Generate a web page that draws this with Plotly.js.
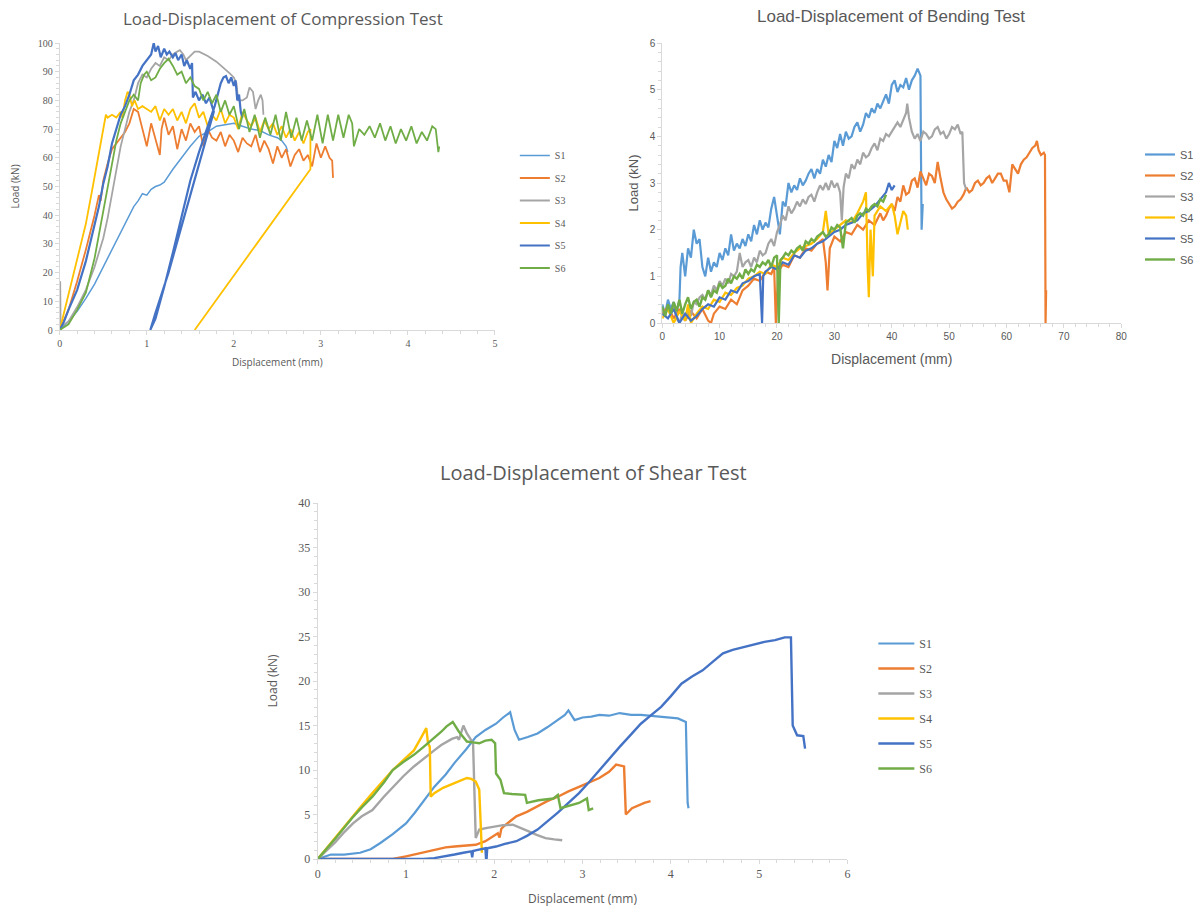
<!DOCTYPE html>
<html><head><meta charset="utf-8">
<script src="https://cdn.plot.ly/plotly-3.0.1.min.js"></script>
<style>html,body{margin:0;padding:0;background:#fff}#chart{width:1199px;height:907px}</style>
</head><body><div id="chart"></div>
<script>
// ---------- DATA ----------
var seriesNames = ["S1","S2","S3","S4","S5","S6"];
var seriesColors = ["#5B9BD5","#ED7D31","#A5A5A5","#FFC000","#4472C4","#70AD47"];

// Compression test (displacement mm, load kN)
var compS1x = [0,0.1,0.2,0.3,0.4,0.5,0.6,0.7,0.8,0.85,0.9,0.95,1.0,1.05,1.1,1.15,1.2,1.3,1.4,1.5,1.6,1.7,1.8,1.9,2.0,2.1,2.2,2.3,2.4,2.5,2.55,2.6,2.62];
var compS1y = [0,3,6.5,11,16,22,28,34,40,43,45,47.5,47,49,50,50.5,51.5,56,60,64,67.5,69,71,71.5,72,71,70,69.5,68,67,66,64,62];
var compS2x = [0,0.1,0.2,0.3,0.4,0.45,0.47,0.5,0.55,0.6,0.65,0.7,0.75,0.8,0.85,0.9,0.95,1.0,1.05,1.1,1.15,1.17,1.2,1.25,1.3,1.35,1.4,1.45,1.5,1.55,1.6,1.65,1.7,1.75,1.8,1.85,1.9,1.95,2.0,2.05,2.1,2.15,2.2,2.25,2.3,2.35,2.4,2.45,2.5,2.55,2.6,2.65,2.7,2.75,2.8,2.85,2.9,2.95,3.0,3.05,3.1,3.13,3.14];
var compS2y = [0,7,17,28,40,47,45,52,58,63,65,67,69,72,77,76,70,64,72,66,61,70,74,68,71,63,70,66,72,69,71,64,70,67,66,69,64,68,66,62,67,65,64,68,62,66,63,58,64,60,63,57,61,63,59,61,57,65,60,64,60,59,53];
var compS3x = [0,0.005,0.01,0.1,0.2,0.3,0.4,0.5,0.55,0.6,0.65,0.7,0.75,0.8,0.85,0.9,0.95,1.0,1.05,1.1,1.15,1.2,1.25,1.3,1.35,1.38,1.42,1.45,1.5,1.55,1.6,1.7,1.8,1.9,1.95,2.0,2.03,2.05,2.1,2.15,2.18,2.22,2.25,2.28,2.31,2.33,2.34];
var compS3y = [0,17,1,3,8,14,22,32,39,47,56,64,70,76,80,86,89,88,91,93,92,95,94,96,97,97.5,96,94,95.5,97,97,95.5,93.5,91,89.5,88,86,80,80,81,84.5,83,77,80,82,80,75];
var compS4x = [0,0.05,0.1,0.2,0.3,0.38,0.45,0.5,0.53,0.55,0.6,0.65,0.7,0.72,0.75,0.78,0.8,0.83,0.86,0.9,0.95,1.0,1.05,1.1,1.15,1.2,1.25,1.3,1.35,1.4,1.45,1.5,1.55,1.6,1.65,1.7,1.75,1.8,1.85,1.9,1.95,2.0,2.05,2.1,2.15,2.2,2.25,2.3,2.35,2.4,2.45,2.5,2.55,2.6,2.65,2.7,2.75,2.8,2.85,2.88,2.88,1.55];
var compS4y = [0,6,12,24,37,50,62,71,75,74,75,74,76,74,80,83,82,78,80,77,78,77,76,78,73,77,75,77,73,76,72,77,79,74,76,71,75,73,77,72,75,74,70,76,73,71,74,69,73,70,72,68,71,67,70,66,69,65,69,70,56,0];
var compS5x = [0,0.05,0.1,0.2,0.3,0.4,0.45,0.5,0.55,0.6,0.65,0.7,0.75,0.8,0.85,0.9,0.95,1.0,1.05,1.08,1.1,1.13,1.16,1.2,1.23,1.26,1.3,1.33,1.36,1.4,1.43,1.46,1.5,1.52,1.53,1.56,1.6,1.64,1.68,1.72,1.77,1.5,1.25,1.1,1.04,1.1,1.2,1.3,1.4,1.5,1.6,1.7,1.78,1.85,1.88,1.91,1.94,1.97,2.0,2.02,2.04,2.06,2.08,2.1];
var compS5y = [0,3,7,14,24,36,43,51,57,65,70,75,78,82,87,89,92,94,96,100,97,99,95,98,96,97,95,96.5,94,96,92,94,91,93,81,83,80,82,79,81,76,47,20,6,0,4,15,27,40,52,62,71,78,86,88,88.5,86,88,85,87,80,82,76,74];
var compS6x = [0,0.1,0.2,0.3,0.4,0.5,0.6,0.65,0.7,0.75,0.8,0.85,0.9,0.93,0.97,1.0,1.05,1.1,1.15,1.2,1.25,1.3,1.35,1.4,1.45,1.5,1.55,1.6,1.65,1.7,1.75,1.8,1.85,1.9,1.95,2.0,2.06,2.12,2.18,2.24,2.3,2.36,2.42,2.48,2.54,2.6,2.66,2.72,2.78,2.84,2.9,2.96,3.02,3.08,3.14,3.2,3.26,3.32,3.36,3.38,3.44,3.5,3.56,3.62,3.68,3.74,3.8,3.86,3.92,3.98,4.04,4.1,4.16,4.22,4.28,4.32,4.35,4.36];
var compS6y = [0,2,7,13,25,42,58,66,72,76,80,82,80,86,89,90,87,88,91,93,94.5,92,89,90,86,88,85,84,80,83,79,82,76,80,75,78,70,77,69,75,67,74,68,75,66,76,67,74,66,73,66,75,65,75,66,75,67,75,72,64,70,68,71,67,72,66,71,65,70,66,71,65,69,66,71,70,62,64];

// Bending test
var bendS1x = [0,0.5,1,1.5,2,2.5,3,3.2,3.5,4,4.5,5,5.5,6,6.5,7,7.5,8,8.5,9,9.5,10,10.5,11,11.5,12,12.5,13,13.5,14,14.5,15,15.5,16,16.5,17,17.5,18,18.5,19,19.5,20,20.5,21,21.5,22,22.5,23,23.5,24,24.5,25,25.5,26,26.5,27,27.5,28,28.5,29,29.5,30,30.5,31,31.5,32,32.5,33,33.5,34,34.5,35,35.5,36,36.5,37,37.5,38,38.5,39,39.5,40,40.5,41,41.5,42,42.5,43,43.5,44,44.5,44.7,45,45.1,45.2,45.4];
var bendS1y = [0.4,0.2,0.5,0.3,0.45,0.25,0.5,1.2,1.5,1.0,1.6,1.4,2.0,1.7,1.8,1.2,1.0,1.4,1.1,1.3,1.2,1.5,1.35,1.6,1.45,1.9,1.55,1.7,1.6,1.8,1.65,1.9,1.75,2.1,1.9,2.2,2.0,2.15,2.05,2.45,2.7,2.3,1.9,2.6,2.5,3.0,2.8,2.95,2.85,3.1,2.95,3.05,3.2,3.3,3.1,3.3,3.2,3.5,3.35,3.6,3.45,3.9,3.75,4.05,3.8,4.1,3.95,4.0,4.2,4.3,4.1,4.25,4.5,4.4,4.6,4.5,4.7,4.6,4.75,4.9,4.7,5.1,5.2,4.95,5.1,5.05,5.25,5.0,5.2,5.3,5.45,5.4,5.3,3.5,2.0,2.55];
var bendS2x = [0,1,2,3,4,5,6,7,8,8.5,9,10,11,12,13,14,15,16,17,18,19,19.5,19.8,20.2,21,22,23,24,25,26,27,28,28.5,28.8,29.2,30,31,32,33,34,35,36,37,38,38.5,39,39.5,40,40.5,41,41.5,42,42.5,43,43.5,44,44.5,45,45.5,46,46.5,47,47.5,48,48.5,49,49.5,50,50.5,51,51.5,52,52.5,53,53.5,54,54.5,55,55.5,56,56.5,57,57.5,58,58.5,59,59.5,60,60.5,61,61.5,62,62.5,63,63.5,64,64.5,65,65.3,65.6,66,66.5,66.7,66.8,66.9];
var bendS2y = [0.2,0.35,0.1,0.3,0.05,0.25,0.1,0.3,0.05,0,0.2,0.35,0.3,0.5,0.4,0.7,0.8,0.95,0.9,1.1,1.05,1.2,0,1.1,1.25,1.2,1.45,1.4,1.6,1.55,1.7,1.8,1.3,0.7,1.6,1.85,1.75,1.95,1.9,2.1,2.0,2.2,2.1,2.35,2.2,2.3,2.45,2.55,2.4,2.7,2.6,2.95,2.75,2.8,3.05,3.1,2.9,3.25,3.1,2.95,3.2,3.15,3.0,3.45,3.1,2.8,2.65,2.55,2.45,2.5,2.6,2.65,2.75,2.9,2.8,2.85,3.0,3.05,2.95,3.0,3.1,3.15,3.0,3.1,3.2,3.2,3.05,3.05,2.8,3.4,3.3,3.2,3.4,3.5,3.55,3.65,3.75,3.8,3.9,3.7,3.6,3.65,3.6,0,0.7];
var bendS3x = [0,0.5,1,1.5,2,2.5,3,3.5,4,4.5,5,5.5,6,6.5,7,7.5,8,8.5,9,9.5,10,10.5,11,11.5,12,12.5,13,13.5,14,14.5,15,15.5,16,16.5,17,17.5,18,18.5,19,19.5,20,20.5,21,21.5,22,22.5,23,23.5,24,24.5,25,25.5,26,26.5,27,27.5,28,28.5,29,29.5,30,30.5,31,31.3,31.6,32,32.5,33,33.5,34,34.5,35,35.5,36,36.5,37,37.5,38,38.5,39,39.5,40,40.5,41,41.5,42,42.5,42.7,43,43.5,44,44.5,45,45.5,46,46.5,47,47.5,48,48.5,49,49.5,50,50.5,51,51.5,52,52.3,52.6,53];
var bendS3y = [0.3,0.15,0.35,0.2,0.4,0.1,0,0.2,0.05,0.3,0.15,0.45,0.4,0.55,0.6,0.5,0.7,0.6,0.8,0.7,0.9,0.8,0.95,0.85,1.05,1.0,1.1,1.5,1.2,1.3,1.35,1.2,1.4,1.3,1.55,1.45,1.5,1.7,1.8,1.65,1.95,2.1,2.3,2.2,2.5,2.35,2.45,2.6,2.5,2.65,2.55,2.7,2.75,2.6,2.8,2.95,2.85,3.0,2.85,3.05,2.9,3.0,2.8,2.2,2.9,3.2,3.1,3.4,3.3,3.5,3.4,3.65,3.55,3.6,3.75,3.85,3.7,3.95,3.9,4.05,4.0,4.1,4.2,4.3,4.2,4.35,4.5,4.7,4.4,4.1,3.95,4.05,3.9,4.1,4.05,3.95,4.0,4.15,4.2,4.05,4.1,3.95,4.05,4.2,4.15,4.25,4.05,4.1,3.0,2.85];
var bendS4x = [0,1,2,3,4,4.5,5,6,7,8,9,10,11,12,13,14,15,16,17,18,19,20,21,22,23,24,25,26,27,28,28.5,29,30,31,32,33,34,35,35.5,35.8,36,36.3,36.7,37,38,39,40,40.5,41,42,42.5,42.8];
var bendS4y = [0.1,0.3,0,0.25,0.05,0.4,0,0.2,0.35,0.3,0.5,0.45,0.65,0.6,0.75,0.8,0.95,1.0,1.1,1.05,1.25,1.2,1.4,1.35,1.5,1.6,1.65,1.7,1.8,1.95,2.4,1.9,2.0,2.1,2.2,2.15,2.35,2.6,2.8,1.2,0.55,2.0,1.0,2.3,2.5,2.4,2.55,2.3,1.9,2.4,2.3,2.0];
var bendS5x = [0,1,2,3,4,5,6,7,8,9,10,11,12,13,14,15,16,17,17.4,17.6,18,19,20,21,22,23,24,25,26,27,28,29,30,31,32,33,34,35,36,37,38,39,39.5,40,40.5];
var bendS5y = [0.2,0.1,0.3,0,0.2,0.05,0.15,0.3,0.4,0.35,0.55,0.5,0.7,0.65,0.85,0.9,1.0,1.05,0,1.0,1.1,1.2,1.15,1.3,1.25,1.45,1.4,1.55,1.6,1.7,1.75,1.85,1.95,2.0,2.1,2.15,2.2,2.35,2.4,2.5,2.65,2.8,3.0,2.85,2.95];
var bendS6x = [0,0.5,1,1.5,2,2.5,3,3.5,4,4.5,5,5.5,6,6.5,7,7.5,8,8.5,9,9.5,10,10.5,11,11.5,12,12.5,13,13.5,14,14.5,15,15.5,16,16.5,17,17.5,18,18.5,19,19.5,20,20.3,20.6,21,21.5,22,22.5,23,23.5,24,24.5,25,25.5,26,26.5,27,27.5,28,28.5,29,29.5,30,30.5,31,31.5,32,32.5,33,33.5,34,34.5,35,35.5,36,36.5,37,37.5,38,38.5,39];
var bendS6y = [0.35,0.15,0.4,0.2,0.45,0.25,0.5,0.2,0.4,0.55,0.3,0.45,0.5,0.35,0.55,0.5,0.7,0.55,0.7,0.65,0.85,0.75,0.8,0.95,0.85,1.0,0.95,1.05,0.95,1.15,1.05,1.15,1.1,1.25,1.2,1.3,1.25,1.35,1.2,1.4,1.45,0,1.35,1.4,1.5,1.45,1.55,1.5,1.6,1.65,1.55,1.75,1.7,1.8,1.75,1.85,1.9,1.95,1.85,1.9,2.05,2.0,2.1,2.05,1.6,2.15,2.2,2.25,2.15,2.3,2.35,2.3,2.45,2.4,2.5,2.55,2.5,2.65,2.6,2.75];

// Shear test
var shearS1x = [0,0.15,0.3,0.48,0.6,0.71,0.85,1.0,1.1,1.18,1.32,1.45,1.55,1.68,1.79,1.9,2.02,2.1,2.16,2.18,2.23,2.28,2.38,2.49,2.6,2.72,2.8,2.84,2.91,3.0,3.1,3.19,3.3,3.42,3.55,3.66,3.78,3.89,4.0,4.08,4.17,4.19,4.2];
var shearS1y = [0,0.5,0.5,0.7,1.1,1.8,2.8,4.0,5.2,6.3,8.1,9.5,10.8,12.3,13.7,14.5,15.2,15.9,16.4,16.5,14.5,13.4,13.7,14.1,14.8,15.6,16.2,16.7,15.6,15.9,16.0,16.2,16.1,16.4,16.2,16.2,16.1,16.0,15.9,15.8,15.4,6.3,5.7];
var shearS2x = [0,0.3,0.6,0.85,1.0,1.09,1.2,1.32,1.45,1.55,1.68,1.79,1.9,1.97,2.04,2.06,2.08,2.11,2.18,2.25,2.37,2.49,2.6,2.72,2.84,2.96,3.08,3.19,3.3,3.38,3.47,3.49,3.56,3.63,3.7,3.77];
var shearS2y = [0,0,0,0,0.3,0.5,0.8,1.05,1.3,1.4,1.5,1.6,2.0,2.5,2.9,2.4,3.4,3.7,4.2,4.8,5.3,5.9,6.5,7.0,7.6,8.1,8.6,9.1,9.8,10.6,10.4,5.0,5.7,6.0,6.3,6.5];
var shearS3x = [0,0.1,0.2,0.29,0.4,0.5,0.62,0.75,0.85,0.97,1.09,1.2,1.32,1.4,1.46,1.52,1.58,1.6,1.65,1.69,1.73,1.76,1.79,1.83,1.92,2.02,2.1,2.21,2.3,2.39,2.48,2.58,2.68,2.77];
var shearS3y = [0,0.9,1.9,2.9,4.0,4.8,5.5,7.0,8.1,9.3,10.4,11.3,12.2,12.8,13.2,13.5,13.7,13.4,15.0,14.1,13.5,13.0,2.35,3.3,3.5,3.66,3.8,3.85,3.5,3.1,2.7,2.35,2.2,2.1];
var shearS4x = [0,0.1,0.2,0.3,0.39,0.5,0.62,0.75,0.85,0.97,1.09,1.17,1.23,1.25,1.27,1.28,1.32,1.42,1.55,1.62,1.69,1.74,1.79,1.83,1.86];
var shearS4y = [0,1.2,2.5,3.7,4.8,6.0,7.4,8.8,10.0,11.1,12.2,13.6,14.7,13.0,12.6,7.0,7.4,8.0,8.5,8.8,9.1,9.0,8.7,7.8,0.7];
var shearS5x = [0,0.5,1.0,1.2,1.32,1.45,1.55,1.65,1.74,1.75,1.76,1.8,1.9,1.91,1.92,2.02,2.12,2.25,2.37,2.49,2.6,2.72,2.84,2.96,3.08,3.19,3.3,3.42,3.55,3.66,3.78,3.89,4.0,4.12,4.24,4.36,4.48,4.59,4.7,4.82,4.94,5.06,5.18,5.29,5.36,5.38,5.43,5.5,5.52];
var shearS5y = [0,0,0,0,0.1,0.3,0.5,0.7,0.86,0.2,0.9,1.0,1.2,-0.5,1.2,1.4,1.7,2.0,2.6,3.3,4.2,5.2,6.3,7.4,8.7,10.0,11.3,12.6,14.0,15.2,16.2,17.1,18.3,19.7,20.5,21.2,22.2,23.1,23.5,23.8,24.1,24.4,24.6,24.9,24.9,15.0,13.9,13.8,12.4];
var shearS6x = [0,0.1,0.2,0.3,0.39,0.5,0.62,0.75,0.85,0.97,1.09,1.2,1.32,1.4,1.46,1.53,1.6,1.69,1.76,1.83,1.9,1.97,2.01,2.02,2.07,2.11,2.2,2.35,2.37,2.5,2.67,2.72,2.75,2.85,2.96,3.05,3.07,3.12];
var shearS6y = [0,1.1,2.3,3.5,4.6,5.8,7.0,8.6,10.0,10.9,11.7,12.6,13.6,14.3,14.9,15.4,14.3,13.2,13.1,13.0,13.3,13.4,13.0,9.6,8.9,7.4,7.3,7.2,6.3,6.6,6.8,7.2,5.7,6.0,6.3,6.8,5.5,5.7];

// ---------- CHART ----------
var comp = [[compS1x,compS1y],[compS2x,compS2y],[compS3x,compS3y],[compS4x,compS4y],[compS5x,compS5y],[compS6x,compS6y]];
var bend = [[bendS1x,bendS1y],[bendS2x,bendS2y],[bendS3x,bendS3y],[bendS4x,bendS4y],[bendS5x,bendS5y],[bendS6x,bendS6y]];
var shear = [[shearS1x,shearS1y],[shearS2x,shearS2y],[shearS3x,shearS3y],[shearS4x,shearS4y],[shearS5x,shearS5y],[shearS6x,shearS6y]];

var traces = [];
function addSet(set, xa, ya, leg, widths) {
  set.forEach(function(s, i) {
    traces.push({x: s[0], y: s[1], type: 'scatter', mode: 'lines', name: seriesNames[i],
      xaxis: xa, yaxis: ya, legend: leg, legendgroup: leg + i,
      line: {color: seriesColors[i], width: widths[i]}, hoverinfo: 'x+y+name'});
  });
}
addSet(comp, 'x', 'y', 'legend', [1.5,1.8,1.8,1.8,2.2,1.8]);
addSet(bend, 'x2', 'y2', 'legend2', [2.2,2.2,2.2,2.2,2.2,2.4]);
addSet(shear, 'x3', 'y3', 'legend3', [2.2,2.4,2.4,2.4,2.4,2.4]);

var W = 1199, H = 907;
function dx(a, b) { return [a / W, b / W]; }
function dy(top, bottom) { return [1 - bottom / H, 1 - top / H]; }

var txt = '#595959';
var serif = 'Liberation Serif, serif';
var sans = 'Open Sans, sans-serif';
var arial = 'Liberation Sans, Arial, sans-serif';

function axis(o) {
  var a = {showgrid: false, zeroline: false, showline: true, linecolor: '#d9d9d9', linewidth: 1,
    ticks: 'outside', ticklen: 4, tickcolor: '#d9d9d9', fixedrange: true,
    tickfont: {family: o.tf, size: o.ts, color: txt}};
  for (var k in o.extra) a[k] = o.extra[k];
  return a;
}

var layout = {
  width: W, height: H, margin: {l: 0, r: 0, t: 0, b: 0},
  paper_bgcolor: '#fff', plot_bgcolor: '#fff', showlegend: true,
  xaxis: axis({tf: serif, ts: 10, extra: {domain: dx(60, 497), range: [0, 5], dtick: 1, anchor: 'y',
    minor: {dtick: 0.2, ticks: 'outside', ticklen: 3, tickcolor: '#d9d9d9'},
    title: {text: 'Displacement (mm)', font: {family: sans, size: 10, color: txt}, standoff: 10}}}),
  yaxis: axis({tf: serif, ts: 10, extra: {domain: dy(43, 330), range: [0, 100], dtick: 10, anchor: 'x',
    minor: {dtick: 2, ticks: 'outside', ticklen: 3, tickcolor: '#d9d9d9'},
    title: {text: 'Load (kN)', font: {family: sans, size: 10, color: txt}, standoff: 16}}}),
  xaxis2: axis({tf: arial, ts: 10, extra: {domain: dx(665, 1126), range: [0, 80], dtick: 10, anchor: 'y2',
    minor: {dtick: 2, ticks: 'outside', ticklen: 3, tickcolor: '#d9d9d9'},
    title: {text: 'Displacement (mm)', font: {family: arial, size: 14, color: txt}, standoff: 13}}}),
  yaxis2: axis({tf: arial, ts: 10, extra: {domain: dy(43, 323), range: [0, 6], dtick: 1, anchor: 'x2',
    minor: {dtick: 0.2, ticks: 'outside', ticklen: 3, tickcolor: '#d9d9d9'},
    title: {text: 'Load (kN)', font: {family: arial, size: 13, color: txt}, standoff: 8}}}),
  xaxis3: axis({tf: serif, ts: 12, extra: {domain: dx(319, 851), range: [0, 6], dtick: 1, anchor: 'y3',
    minor: {dtick: 0.2, ticks: 'outside', ticklen: 3, tickcolor: '#d9d9d9'},
    title: {text: 'Displacement (mm)', font: {family: sans, size: 12, color: txt}, standoff: 14}}}),
  yaxis3: axis({tf: serif, ts: 12, extra: {domain: dy(503, 859), range: [0, 40], dtick: 5, anchor: 'x3',
    minor: {dtick: 1, ticks: 'outside', ticklen: 3, tickcolor: '#d9d9d9'},
    title: {text: 'Load (kN)', font: {family: sans, size: 12, color: txt}, standoff: 18}}}),
  legend: {x: 517 / W, y: 1 - 141 / H, xanchor: 'left', yanchor: 'top', bgcolor: 'rgba(0,0,0,0)',
    font: {family: serif, size: 10, color: txt}, itemwidth: 30, tracegroupgap: 3.5, traceorder: 'grouped'},
  legend2: {x: 1145 / W, y: 1 - 140 / H, xanchor: 'left', yanchor: 'top', bgcolor: 'rgba(0,0,0,0)',
    font: {family: arial, size: 11, color: txt}, itemwidth: 30, tracegroupgap: 2, traceorder: 'grouped'},
  legend3: {x: 877 / W, y: 1 - 629 / H, xanchor: 'left', yanchor: 'top', bgcolor: 'rgba(0,0,0,0)',
    font: {family: serif, size: 12, color: txt}, itemwidth: 36, tracegroupgap: 6, traceorder: 'grouped'},
  annotations: [
    {text: 'Load-Displacement of Compression Test', x: 284 / W, y: 1 - 18 / H, xref: 'paper', yref: 'paper',
     xanchor: 'center', yanchor: 'middle', showarrow: false, font: {family: sans, size: 17, color: txt}},
    {text: 'Load-Displacement of Bending Test', x: 895 / W, y: 1 - 17 / H, xref: 'paper', yref: 'paper',
     xanchor: 'center', yanchor: 'middle', showarrow: false, font: {family: arial, size: 17, color: txt}},
    {text: 'Load-Displacement of Shear Test', x: 596 / W, y: 1 - 472 / H, xref: 'paper', yref: 'paper',
     xanchor: 'center', yanchor: 'middle', showarrow: false, font: {family: sans, size: 20, color: txt}}
  ]
};

Plotly.newPlot('chart', traces, layout, {displayModeBar: false, responsive: false});
</script></body></html>
